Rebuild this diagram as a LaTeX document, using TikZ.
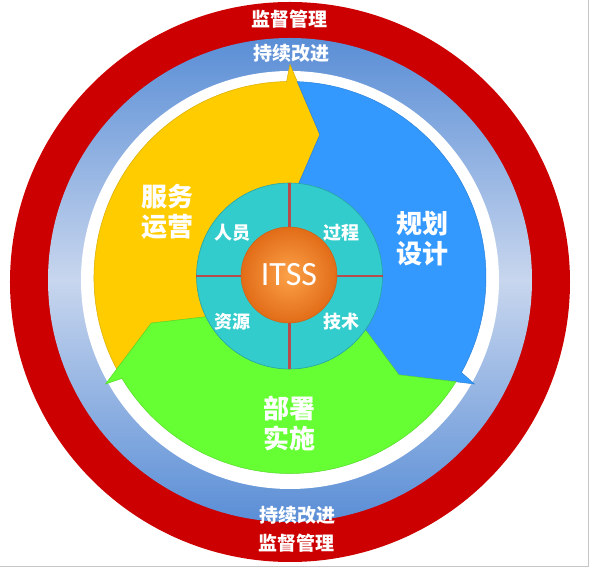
\documentclass[tikz,border=0pt]{standalone}
\usepackage{fontspec}
\newfontfamily\cjk{Noto Sans CJK SC}
\newfontfamily\latinfont{Carlito}
\usetikzlibrary{calc}

\definecolor{ringred}{RGB}{204,0,0}
\definecolor{ringdark}{RGB}{90,142,214}
\definecolor{ringlight}{RGB}{200,214,238}
\definecolor{segyellow}{RGB}{255,204,0}
\definecolor{segblue}{RGB}{51,153,255}
\definecolor{seggreen}{RGB}{102,255,51}
\definecolor{coreteal}{RGB}{51,204,204}
\definecolor{divider}{RGB}{184,76,76}
\definecolor{itsslight}{RGB}{252,162,72}
\definecolor{itssdark}{RGB}{226,108,24}

\begin{document}
\begin{tikzpicture}[x=1pt, y=1pt,
        ring_text/.style={text=white, font=\cjk\bfseries\fontsize{19}{22}\selectfont},
        seg_label/.style={text=white, align=center, font=\cjk\bfseries\fontsize{26}{30}\selectfont},
        key_label/.style={text=white, font=\cjk\bfseries\fontsize{18}{20}\selectfont}]

        \useasboundingbox (-290,-289) rectangle (302,280);

        % Outer rings
        \fill[ringred] (0,-2) circle (280);
        \shade[top color=ringdark, bottom color=ringdark, middle color=ringlight] (0,0) circle (242);
        \fill[white] (0,0) circle (209);

        % Cycle segments with arrow heads (clockwise)
        \begin{scope}[shift={(0,2.5)}]
        \foreach \segcol/\b in {segyellow/90, segblue/-30, seggreen/-150}{
            \filldraw[fill=\segcol, draw=\segcol!85!black, line width=0.5]
                (0,0) -- ({\b+115}:93) -- ({\b+108.2}:146)
                -- ($({\b+120}:213)!0.245!({\b+108.2}:146)$) -- ({\b+118}:196)
                arc[start angle=\b+118, end angle=\b+1, radius=196]
                -- (\b:213) -- ({\b-11.8}:146) -- ({\b-5}:93) -- cycle;
        }
        \end{scope}

        % Core circle and dividers
        \node[circle, minimum size=186pt, inner sep=0, outer sep=0, fill=coreteal, draw=coreteal!80!black, line width=0.6] (core) at (-0.5,4) {};
        \draw[divider, line width=2.6] (core.north) -- (core.south);
        \draw[divider, line width=2.6] (core.west) -- (core.east);

        % ITSS ball
        \node[circle, minimum size=96pt, inner sep=0, inner color=itsslight, outer color=itssdark, draw=itssdark!90!black, line width=0.5,
            text=white, font=\latinfont\fontsize{34}{36}\selectfont] (itss) at (-1,5) {ITSS};

        % Core labels
        \node[key_label] (people) at (-57,47) {人员};
        \node[key_label] (process) at (52,47) {过程};
        \node[key_label] (resource) at (-57,-42) {资源};
        \node[key_label] (tech) at (52,-42) {技术};

        % Segment labels
        \node[seg_label] (ops) at (-122,68) {服务\\运营};
        \node[seg_label] (plan) at (132,41) {规划\\设计};
        \node[seg_label] (deploy) at (0,-143) {部署\\实施};

        % Ring labels
        \node[ring_text] (top_red) at (0,261) {监督管理};
        \node[ring_text] (top_blue) at (2,227) {持续改进};
        \node[ring_text] (bot_blue) at (8,-235) {持续改进};
        \node[ring_text] (bot_red) at (7,-263) {监督管理};

        % Frame edges
        \coordinate (frame_bl) at (-290,-286.5);
        \coordinate (frame_br) at (298.5,-286.5);
        \coordinate (frame_tr) at (298.5,280);
        \draw[gray!45, line width=1.2] (frame_bl) -- (frame_br) -- (frame_tr);
    \end{tikzpicture}
\end{document}
